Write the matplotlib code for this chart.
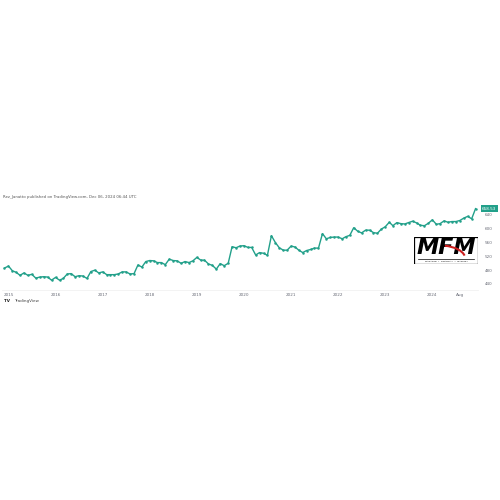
#!/usr/bin/env python3
"""Monthly index line chart in TradingView style, Dec 2014 - Dec 2024."""

import matplotlib

matplotlib.use("Agg")
import matplotlib.pyplot as plt
import numpy as np
import pandas as pd
from matplotlib.patches import Rectangle, Arc

START_MONTH = "2014-12-01"
VALUES = [
    486, 492, 478, 474, 465, 472, 465, 468, 457, 460, 461, 460, 451, 459, 451,
    456, 469, 470, 461, 464, 463, 456, 476, 480, 472, 475, 467, 467, 467, 469,
    475, 475, 469, 470, 495, 489, 505, 508, 507, 502, 502, 496, 512,
    508, 507, 500, 505, 502, 507, 517, 509, 509, 498, 494, 483, 499, 493, 500,
    548, 545, 550, 551, 546, 546, 524, 531, 529, 523, 580, 560, 545, 538, 538,
    550, 547, 538, 531, 537, 540, 544, 544, 586, 571, 575,
    576, 576, 571, 577, 581, 603, 593, 588, 596, 596, 589, 587, 599, 606, 619,
    609, 618, 615, 614, 618, 622, 617, 610, 609, 616, 626, 613, 615, 623, 619,
    621, 621, 624, 631, 636, 629, 658.53,
]
Y_TICKS = [440, 480, 520, 560, 600, 640]
X_TICK_DATES = ["2015-01-01", "2016-01-01", "2017-01-01", "2018-01-01", "2019-01-01",
                "2020-01-01", "2021-01-01", "2022-01-01", "2023-01-01", "2024-01-01",
                "2024-08-01"]
X_TICK_LABELS = ["2015", "2016", "2017", "2018", "2019", "2020", "2021", "2022",
                 "2023", "2024", "Aug"]
LAST_LABEL = "658.53"
HEADER = "Rez_Janatto published on TradingView.com, Dec 06, 2024 06:44 UTC"

LINE_COLOR = "#22a08a"
TEXT_COLOR = "#6a6d78"

dates = pd.date_range(START_MONTH, periods=len(VALUES), freq="MS")
values = np.array(VALUES, dtype=float)

fig = plt.figure(figsize=(5, 5), dpi=100, facecolor="white")
ax = fig.add_axes([0.004, 0.42, 0.952, 0.18])

ax.plot(dates, values, color=LINE_COLOR, linewidth=1.0, marker="o",
        markersize=1.8, markeredgewidth=0, zorder=3)

ax.set_xlim(pd.Timestamp("2014-11-12"), pd.Timestamp("2024-12-20"))
ax.set_ylim(422.5, 683.5)

ax.yaxis.tick_right()
ax.set_yticks(Y_TICKS)
ax.set_yticklabels([str(v) for v in Y_TICKS])
ax.set_xticks([pd.Timestamp(d) for d in X_TICK_DATES])
ax.set_xticklabels(X_TICK_LABELS)
ax.tick_params(axis="both", length=0, labelsize=3, colors=TEXT_COLOR, pad=2)
ax.tick_params(axis="y", pad=5)

for side in ["top", "left", "right"]:
    ax.spines[side].set_visible(False)
ax.spines["bottom"].set_color("#eeeeee")
ax.spines["bottom"].set_linewidth(0.5)

# last price tag on the price scale
ax.annotate(LAST_LABEL, xy=(1.0, values[-1]), xycoords=("axes fraction", "data"),
            xytext=(3, 0), textcoords="offset points", fontsize=3, color="white",
            va="center", ha="left",
            bbox=dict(boxstyle="square,pad=0.35", fc=LINE_COLOR, ec="none"))

# header and footer
fig.text(0.006, 0.602, HEADER, fontsize=2.8, color="#555555", ha="left", va="bottom")
fig.text(0.008, 0.398, "TV", fontsize=3, color="#222222", fontweight="bold",
         ha="left", va="center")
fig.text(0.028, 0.398, "TradingView", fontsize=3, color="#444444",
         ha="left", va="center")

# MFM logo box
logo = fig.add_axes([0.828, 0.472, 0.128, 0.055])
logo.set_xlim(0, 1)
logo.set_ylim(0, 1)
logo.axis("off")
logo.add_patch(Rectangle((0, 0), 1, 1, facecolor="white", edgecolor="black", linewidth=0.9))
logo.text(0.5, 0.57, "MFM", fontsize=16, fontweight="black", style="italic",
          color="black", ha="center", va="center", zorder=3)
logo.add_patch(Arc((0.40, 0.20), 0.8, 0.95, theta1=15, theta2=80, color="#cc1f1f",
                   linewidth=1.5, zorder=5))
logo.plot([0.06, 0.94], [0.17, 0.17], color="black", linewidth=0.5)
logo.text(0.5, 0.08, "MANAGED  \u2022  FINANCIAL  \u2022  MASTERY", fontsize=1.6,
          color="black", ha="center", va="center")

fig.savefig("out.png", dpi=100, facecolor="white")
plt.close(fig)
